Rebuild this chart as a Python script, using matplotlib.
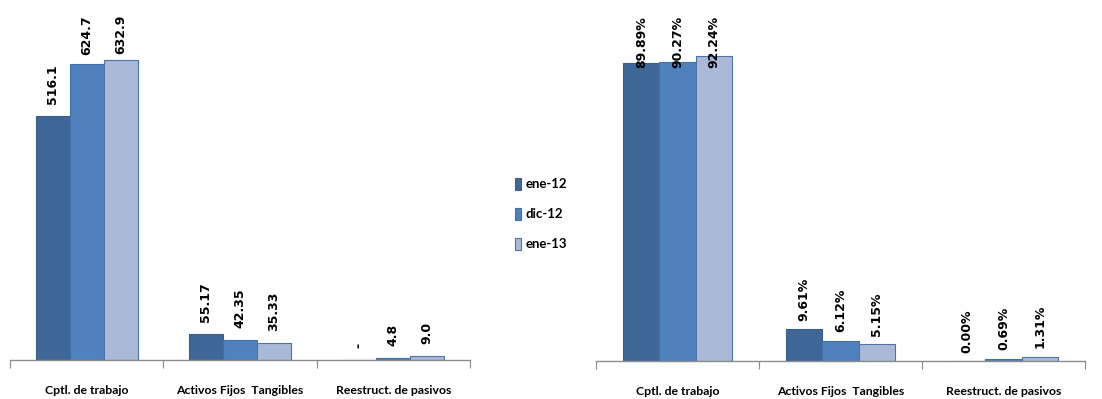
import matplotlib.pyplot as plt
import numpy as np

categories = ['Cptl. de trabajo', 'Activos Fijos  Tangibles', 'Reestruct. de pasivos']
series = ['ene-12', 'dic-12', 'ene-13']

# left panel: amounts
amount_vals = {
    'ene-12': [516.1, 55.17, 0.0],
    'dic-12': [624.7, 42.35, 4.8],
    'ene-13': [632.9, 35.33, 9.0],
}
amount_labels = {
    'ene-12': ['516.1', '55.17', '-'],
    'dic-12': ['624.7', '42.35', '4.8'],
    'ene-13': ['632.9', '35.33', '9.0'],
}

# right panel: shares (%)
share_vals = {
    'ene-12': [89.89, 9.61, 0.00],
    'dic-12': [90.27, 6.12, 0.69],
    'ene-13': [92.24, 5.15, 1.31],
}

colors = ['#3F6899', '#4F81BD', '#AAB9D7']
edges = ['#385D8A', '#3F71AC', '#4A74AA']

label_font = 'Lato'

fig = plt.figure(figsize=(11.02, 3.99), dpi=100)
ax1 = fig.add_axes([10/1102, 39/399, 460/1102, 360/399])
ax2 = fig.add_axes([596/1102, 38/399, 489/1102, 361/399])


def draw_panel(ax, vals, labels, ymax, pad_pt, cap, top_frac):
    x = np.arange(len(categories)) + 0.5
    w = 0.222
    for i, s in enumerate(series):
        xs = x + (i - 1) * w
        ax.bar(xs, vals[s], width=w, color=colors[i], edgecolor=edges[i],
               linewidth=0.8, label=s, zorder=2)
        for xi, v, lab in zip(xs, vals[s], labels[s]):
            if v > cap:
                ax.text(xi, top_frac, lab, rotation=90, ha='center', va='top',
                        fontsize=9, fontweight='bold',
                        transform=ax.get_xaxis_transform(), zorder=3)
            else:
                ax.annotate(lab, (xi, v), xytext=(0, pad_pt),
                            textcoords='offset points', rotation=90,
                            ha='center', va='bottom', fontsize=9,
                            fontweight='bold', zorder=3)
    ax.set_xlim(0, 3)
    ax.set_ylim(0, ymax)
    for sp in ['top', 'right', 'left']:
        ax.spines[sp].set_visible(False)
    ax.spines['bottom'].set_color('#8C8C8C')
    ax.spines['bottom'].set_linewidth(1.0)
    ax.set_yticks([])
    ax.set_xticks([0, 1, 2, 3])
    ax.set_xticklabels([])
    ax.tick_params(axis='x', which='major', length=6, color='#8C8C8C',
                   direction='out')
    ax.set_xticks(x, minor=True)
    ax.set_xticklabels(categories, minor=True, fontsize=8.8, fontweight='bold',
                       family=label_font)
    ax.tick_params(axis='x', which='minor', length=0, pad=18)


draw_panel(ax1, amount_vals, amount_labels, 760, 8.5, 600, 0.958)

share_labels = {s: ['%.2f%%' % v for v in share_vals[s]] for s in series}
draw_panel(ax2, share_vals, share_labels, 109, 6, 50, 0.956)

leg = fig.legend(*ax1.get_legend_handles_labels(), loc='center left',
                 bbox_to_anchor=(503/1102, 1 - 214/399), frameon=False,
                 handlelength=0.5, handleheight=1.1, handletextpad=0.3,
                 labelspacing=1.3, prop={'family': label_font, 'weight': 'bold',
                                         'size': 9.5})

fig.savefig('out.png', dpi=100)
